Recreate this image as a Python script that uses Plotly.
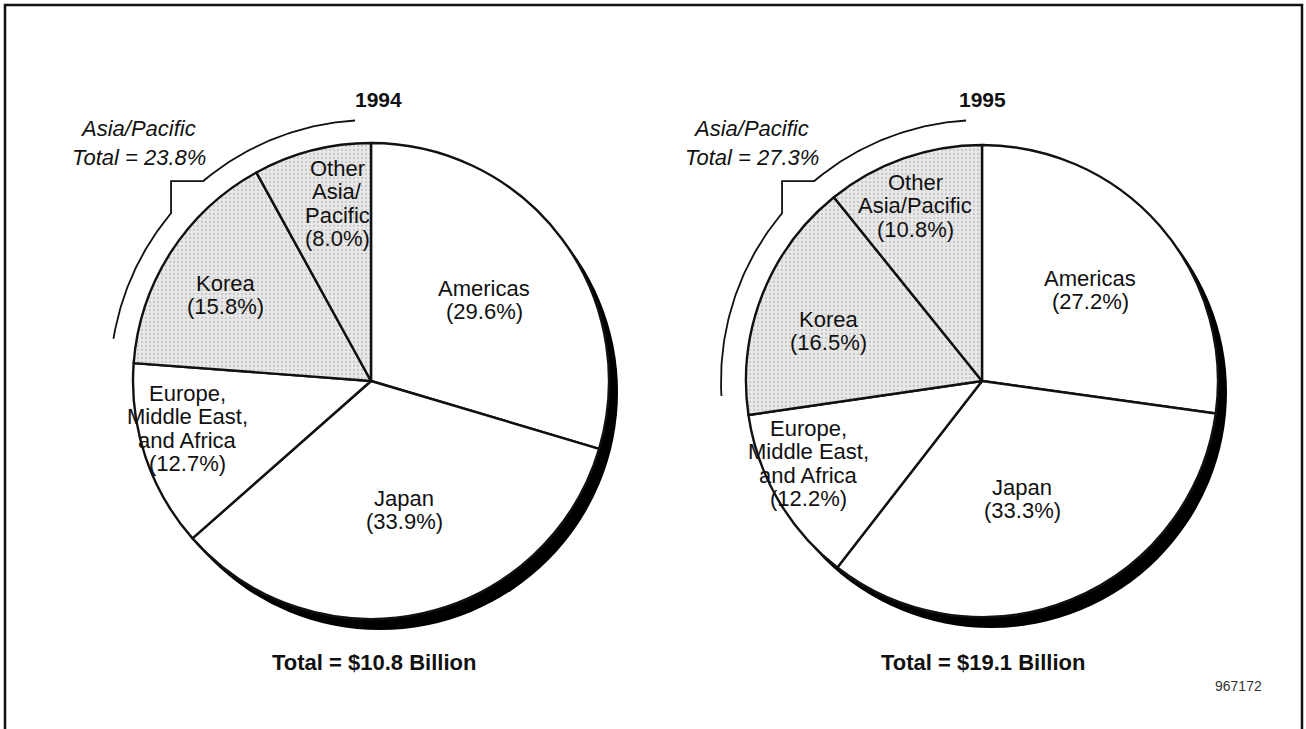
import numpy as np
import plotly.graph_objects as go

W, H = 1306, 729

# ---- data -------------------------------------------------------------
years = ["1994", "1995"]
regions = ["Americas", "Japan", "Europe, Middle East, and Africa", "Korea", "Other Asia/Pacific"]
shares_1994 = [29.6, 33.9, 12.7, 15.8, 8.0]
shares_1995 = [27.2, 33.3, 12.2, 16.5, 10.8]
totals_bn = [10.8, 19.1]
asia_regions = ["Korea", "Other Asia/Pacific"]
figure_id = "967172"

# label line breaks inside each pie
lines_1994 = [["Americas"], ["Japan"], ["Europe,", "Middle East,", "and Africa"],
              ["Korea"], ["Other", "Asia/", "Pacific"]]
lines_1995 = [["Americas"], ["Japan"], ["Europe,", "Middle East,", "and Africa"],
              ["Korea"], ["Other", "Asia/Pacific"]]

# ---- layout (pixels) ---------------------------------------------------
pies = [
    dict(year=years[0], shares=shares_1994, lines=lines_1994, total=totals_bn[0],
         cx=371, cy=381, r=238, title_x=378,
         label_xy=[(484, 288), (404, 498), (187, 393), (225, 283), (337, 168)],
         asia_xy=(138, 128), foot_x=374),
    dict(year=years[1], shares=shares_1995, lines=lines_1995, total=totals_bn[1],
         cx=982, cy=381, r=236, title_x=982,
         label_xy=[(1090, 278), (1022, 487), (808, 428), (828, 319), (915, 182)],
         asia_xy=(751, 128), foot_x=983),
]
LINE_DY = 23.5
FONT = "Liberation Sans, Arial, Helvetica, sans-serif"
INK = "#111111"
SHADE = "#e9e9e9"
SHADOW_DX, SHADOW_DY = 9, 11

fig = go.Figure()
shapes, annotations = [], []

for p in pies:
    cx, cy, r = p["cx"], p["cy"], p["r"]
    colors = [SHADE if reg in asia_regions else "white" for reg in regions]

    # drop shadow behind the pie
    shapes.append(dict(type="circle", xref="x", yref="y", layer="below",
                       x0=cx - r + SHADOW_DX, x1=cx + r + SHADOW_DX,
                       y0=cy - r + SHADOW_DY, y1=cy + r + SHADOW_DY,
                       fillcolor="black", line=dict(width=0)))

    fig.add_trace(go.Pie(
        labels=regions, values=p["shares"], sort=False, direction="clockwise",
        rotation=0, textinfo="none", hoverinfo="label+percent", showlegend=False,
        marker=dict(colors=colors, line=dict(color=INK, width=2.4),
                    pattern=dict(shape=["", "", "", ".", "."], fgcolor="#c8c8c8",
                                 bgcolor=SHADE, size=4, solidity=0.25)),
        domain=dict(x=[(cx - r) / W, (cx + r) / W],
                    y=[1 - (cy + r) / H, 1 - (cy - r) / H]),
    ))

    # slice labels
    for reg, share, lines, (lx, ly) in zip(regions, p["shares"], p["lines"], p["label_xy"]):
        for i, t in enumerate(lines + [f"({share:.1f}%)"]):
            annotations.append(dict(x=lx, y=ly + i * LINE_DY, xref="x", yref="y", text=t,
                                    showarrow=False, font=dict(family=FONT, size=22, color=INK)))

    # year title and total
    annotations.append(dict(x=p["title_x"], y=99, xref="x", yref="y", text=f"<b>{p['year']}</b>",
                            showarrow=False, font=dict(family=FONT, size=21, color=INK)))
    annotations.append(dict(x=p["foot_x"], y=662, xref="x", yref="y",
                            text=f"<b>Total = ${p['total']:.1f} Billion</b>",
                            showarrow=False, font=dict(family=FONT, size=22, color=INK)))

    # Asia/Pacific bracket
    asia_share = sum(s for reg, s in zip(regions, p["shares"]) if reg in asia_regions)
    asia_deg = asia_share * 3.6
    R = 261

    def pt(theta):
        t = np.radians(theta)
        return cx + R * np.sin(t), cy - R * np.cos(t)

    upper = np.linspace(-40, -3.5, 60)
    lower = np.linspace(-asia_deg + 5, -50, 60)
    ux, uy = pt(upper)
    lx_, ly_ = pt(lower)
    corner_x, corner_y = lx_[-1], uy[0]
    bx = np.concatenate([ux[::-1], [corner_x], lx_[::-1]])
    by = np.concatenate([uy[::-1], [corner_y], ly_[::-1]])
    fig.add_trace(go.Scatter(x=bx, y=by, mode="lines", hoverinfo="skip", showlegend=False,
                             line=dict(color=INK, width=1.8)))

    ax, ay = p["asia_xy"]
    annotations.append(dict(x=ax, y=ay, xref="x", yref="y", text="<i>Asia/Pacific</i>",
                            showarrow=False, font=dict(family=FONT, size=22, color=INK)))
    annotations.append(dict(x=ax + 1, y=ay + 29, xref="x", yref="y",
                            text=f"<i>Total = {asia_share:.1f}%</i>",
                            showarrow=False, font=dict(family=FONT, size=22, color=INK)))

annotations.append(dict(x=1238, y=686, xref="x", yref="y", text=figure_id, showarrow=False,
                        font=dict(family=FONT, size=14, color="#333333")))

# outer frame
shapes.append(dict(type="rect", xref="x", yref="y", x0=5, x1=1302, y0=5, y1=760,
                   line=dict(color=INK, width=2.5), layer="above"))

fig.update_layout(
    width=W, height=H, margin=dict(l=0, r=0, t=0, b=0),
    paper_bgcolor="white", plot_bgcolor="rgba(0,0,0,0)",
    xaxis=dict(range=[0, W], visible=False, domain=[0, 1], fixedrange=True),
    yaxis=dict(range=[H, 0], visible=False, domain=[0, 1], fixedrange=True),
    shapes=shapes, annotations=annotations,
)

fig.write_html("out.html")
